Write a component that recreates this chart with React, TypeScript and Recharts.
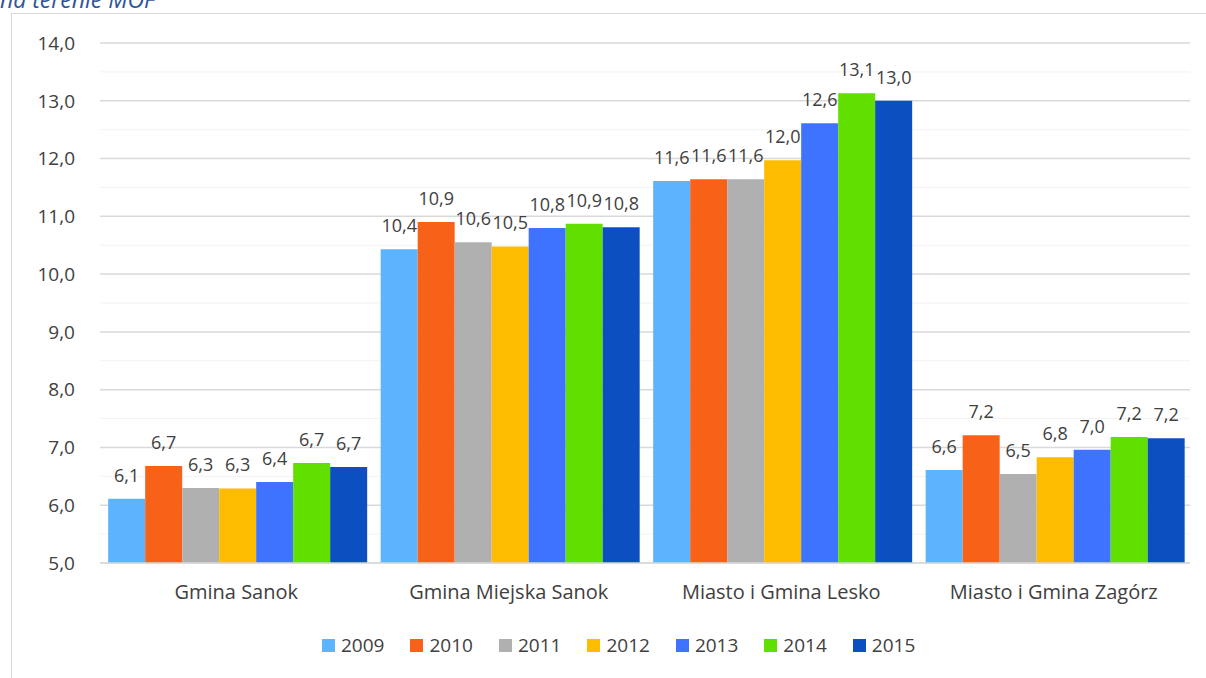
import React from "react";
import {
  BarChart,
  Bar,
  XAxis,
  YAxis,
  CartesianGrid,
  LabelList,
  Legend,
} from "recharts";

const categories = [
  "Gmina Sanok",
  "Gmina Miejska Sanok",
  "Miasto i Gmina Lesko",
  "Miasto i Gmina Zagórz",
];

const years = ["2009", "2010", "2011", "2012", "2013", "2014", "2015"];

const v2009 = [6.11, 10.43, 11.61, 6.61];
const v2010 = [6.68, 10.9, 11.64, 7.21];
const v2011 = [6.3, 10.55, 11.64, 6.54];
const v2012 = [6.29, 10.48, 11.97, 6.83];
const v2013 = [6.4, 10.8, 12.61, 6.96];
const v2014 = [6.73, 10.87, 13.13, 7.18];
const v2015 = [6.66, 10.81, 13.0, 7.16];

const yTicks = [5, 5.5, 6, 6.5, 7, 7.5, 8, 8.5, 9, 9.5, 10, 10.5, 11, 11.5, 12, 12.5, 13, 13.5, 14];

const colors = ["#5DB4FE", "#F86218", "#B0B0B0", "#FEBC00", "#3D73FF", "#61E000", "#0C4FC0"];

const series = [v2009, v2010, v2011, v2012, v2013, v2014, v2015];

const data = categories.map((name, i) => {
  const row: Record<string, string | number> = { name };
  years.forEach((y, k) => {
    row[y] = series[k][i];
  });
  return row;
});

const font = "'Open Sans', sans-serif";

const fmt = (v: number) => Number(v).toFixed(1).replace(".", ",");

const gridLine = (props: any) => {
  const major = props.index % 2 === 0;
  return (
    <line
      key={props.key ?? `g-${props.index}`}
      x1={props.x1}
      y1={props.y1}
      x2={props.x2}
      y2={props.y2}
      stroke={major ? "#d9d9d9" : "#f2f2f2"}
      strokeWidth={major ? 1.5 : 1}
    />
  );
};

function LegendBox() {
  return (
    <div
      style={{
        display: "flex",
        justifyContent: "flex-start",
        paddingLeft: 322,
        height: 26,
        alignItems: "center",
        fontFamily: font,
        fontSize: 19,
        color: "#404040",
      }}
    >
      {years.map((y, i) => (
        <div key={y} style={{ display: "flex", alignItems: "center", marginRight: 26 }}>
          <span
            style={{
              width: 13,
              height: 13,
              background: colors[i],
              display: "inline-block",
              marginRight: 6,
            }}
          />
          <span>{y}</span>
        </div>
      ))}
    </div>
  );
}

export default function App() {
  return (
    <div
      style={{
        position: "absolute",
        left: 0,
        top: 0,
        width: 1206,
        height: 678,
        overflow: "hidden",
        background: "#fff",
      }}
    >
      <div
        style={{
          position: "absolute",
          left: 0,
          top: -17,
          fontFamily: font,
          fontStyle: "italic",
          fontSize: 23,
          color: "#2F5597",
        }}
      >
        na terenie MOF
      </div>
      <div
        style={{
          position: "absolute",
          left: 11,
          top: 13,
          width: 1300,
          height: 800,
          border: "1.5px solid #d9d9d9",
        }}
      />
      <div style={{ position: "absolute", left: 0, top: 0 }}>
        <BarChart
          width={1206}
          height={678}
          data={data}
          margin={{ top: 43, right: 16, bottom: 29, left: 0 }}
          barCategoryGap="3%"
          barGap={0}
        >
          <CartesianGrid vertical={false} horizontal={gridLine} />
          <XAxis
            dataKey="name"
            height={60}
            tickLine={false}
            tickSize={0}
            tickMargin={22}
            axisLine={{ stroke: "#d9d9d9", strokeWidth: 1.5 }}
            tick={{ fill: "#404040", fontSize: 20, fontFamily: font }}
          />
          <YAxis
            width={100}
            domain={[5, 14]}
            ticks={yTicks}
            interval={0}
            axisLine={false}
            tickLine={false}
            tickSize={0}
            tickMargin={25}
            tickFormatter={(v: number) => (Number.isInteger(v) ? fmt(v) : "")}
            tick={{ fill: "#404040", fontSize: 19, fontFamily: font }}
          />
          <Legend
            verticalAlign="bottom"
            height={26}
            wrapperStyle={{ bottom: 20, left: 0, width: 1206 }}
            content={() => <LegendBox />}
          />
          {years.map((y, i) => (
            <Bar key={y} dataKey={y} fill={colors[i]} isAnimationActive={false}>
              <LabelList
                dataKey={y}
                position="top"
                offset={17}
                formatter={(v: any) => fmt(v)}
                style={{ fill: "#404040", fontSize: 18, fontFamily: font }}
              />
            </Bar>
          ))}
        </BarChart>
      </div>
    </div>
  );
}
